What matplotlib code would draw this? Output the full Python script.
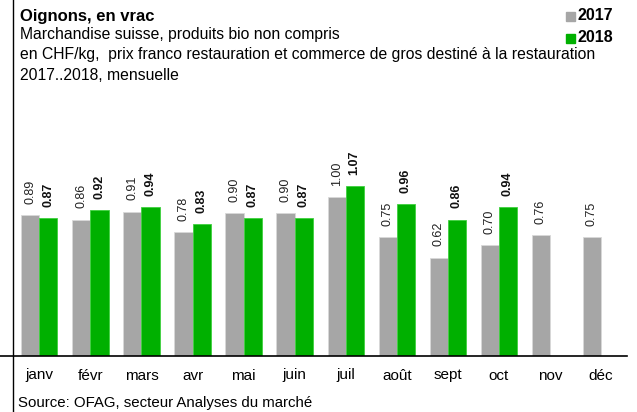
import numpy as np
import matplotlib
matplotlib.use("Agg")
import matplotlib.pyplot as plt
from matplotlib.lines import Line2D
from matplotlib.patches import Rectangle

plt.rcParams['font.family'] = ['Liberation Sans', 'DejaVu Sans']

# Données
mois = ["janv", "févr", "mars", "avr", "mai", "juin",
        "juil", "août", "sept", "oct", "nov", "déc"]
prix_2017 = [0.89, 0.86, 0.91, 0.78, 0.90, 0.90, 1.00, 0.75, 0.62, 0.70, 0.76, 0.75]
prix_2018 = [0.87, 0.92, 0.94, 0.83, 0.87, 0.87, 1.07, 0.96, 0.86, 0.94, None, None]

gris = "#a6a6a6"
vert = "#00b000"

W, H = 637, 412
fig = plt.figure(figsize=(W / 100, H / 100), dpi=100)

# axe: x de 13.8 à 626.5 px, base à 356 px
x0, x1 = 13.8, 626.5
y_base = 356
px_par_unite = 158.7
y_max = 1.2
y_top = y_base - y_max * px_par_unite
ax = fig.add_axes([x0 / W, 1 - y_base / H, (x1 - x0) / W, (y_base - y_top) / H])

x = np.arange(len(mois))
larg = 0.355
for i in range(len(mois)):
    v17 = prix_2017[i]
    ax.bar(x[i] - larg / 2, v17, larg, color=gris, edgecolor="#d9d9d9", linewidth=0.6)
    ax.annotate(f"{v17:.2f}", (x[i] - larg / 2, v17), xytext=(0, 8),
                textcoords="offset points", rotation=90, ha="center", va="bottom",
                fontsize=9, color="#222222")
    v18 = prix_2018[i]
    if v18 is not None:
        ax.bar(x[i] + larg / 2, v18, larg, color=vert, edgecolor="#3fd03f", linewidth=0.6)
        ax.annotate(f"{v18:.2f}", (x[i] + larg / 2, v18), xytext=(0, 8),
                    textcoords="offset points", rotation=90, ha="center", va="bottom",
                    fontsize=9, fontweight="bold", color="#111111")

ax.set_xlim(-0.5, len(mois) - 0.5)
ax.set_ylim(0, y_max)
ax.set_xticks(x)
ax.set_xticklabels(mois, fontsize=11)
ax.tick_params(axis="x", length=0, pad=9)
ax.set_yticks([])
for s in ["top", "right", "left", "bottom"]:
    ax.spines[s].set_visible(False)
ax.patch.set_alpha(0)

# lignes du cadre
fig.add_artist(Line2D([0, x1 / W], [1 - y_base / H, 1 - y_base / H], color="black", lw=1.2))
fig.add_artist(Line2D([13 / W, 13 / W], [0, 1], color="black", lw=1))

# textes
fig.text(20 / W, 1 - 16 / H, "Oignons, en vrac", fontsize=12, fontweight="bold", va="center")
fig.text(20 / W, 1 - 35 / H, "Marchandise suisse, produits bio non compris", fontsize=11.3, va="center")
fig.text(20 / W, 1 - 55 / H, "en CHF/kg,  prix franco restauration et commerce de gros destiné à la restauration",
         fontsize=11.3, va="center")
fig.text(20 / W, 1 - 75 / H, "2017..2018, mensuelle", fontsize=11.3, va="center")
fig.text(18 / W, 1 - 403 / H, "Source: OFAG, secteur Analyses du marché", fontsize=10.8, va="center")

# légende
for yy, c, lab in [(16, gris, "2017"), (38, vert, "2018")]:
    fig.add_artist(Rectangle((566 / W, 1 - (yy + 4.5) / H), 9 / W, 9 / H, color=c))
    fig.text(578 / W, 1 - yy / H, lab, fontsize=11.5, fontweight="bold", va="center")

fig.savefig("out.png", dpi=100)
